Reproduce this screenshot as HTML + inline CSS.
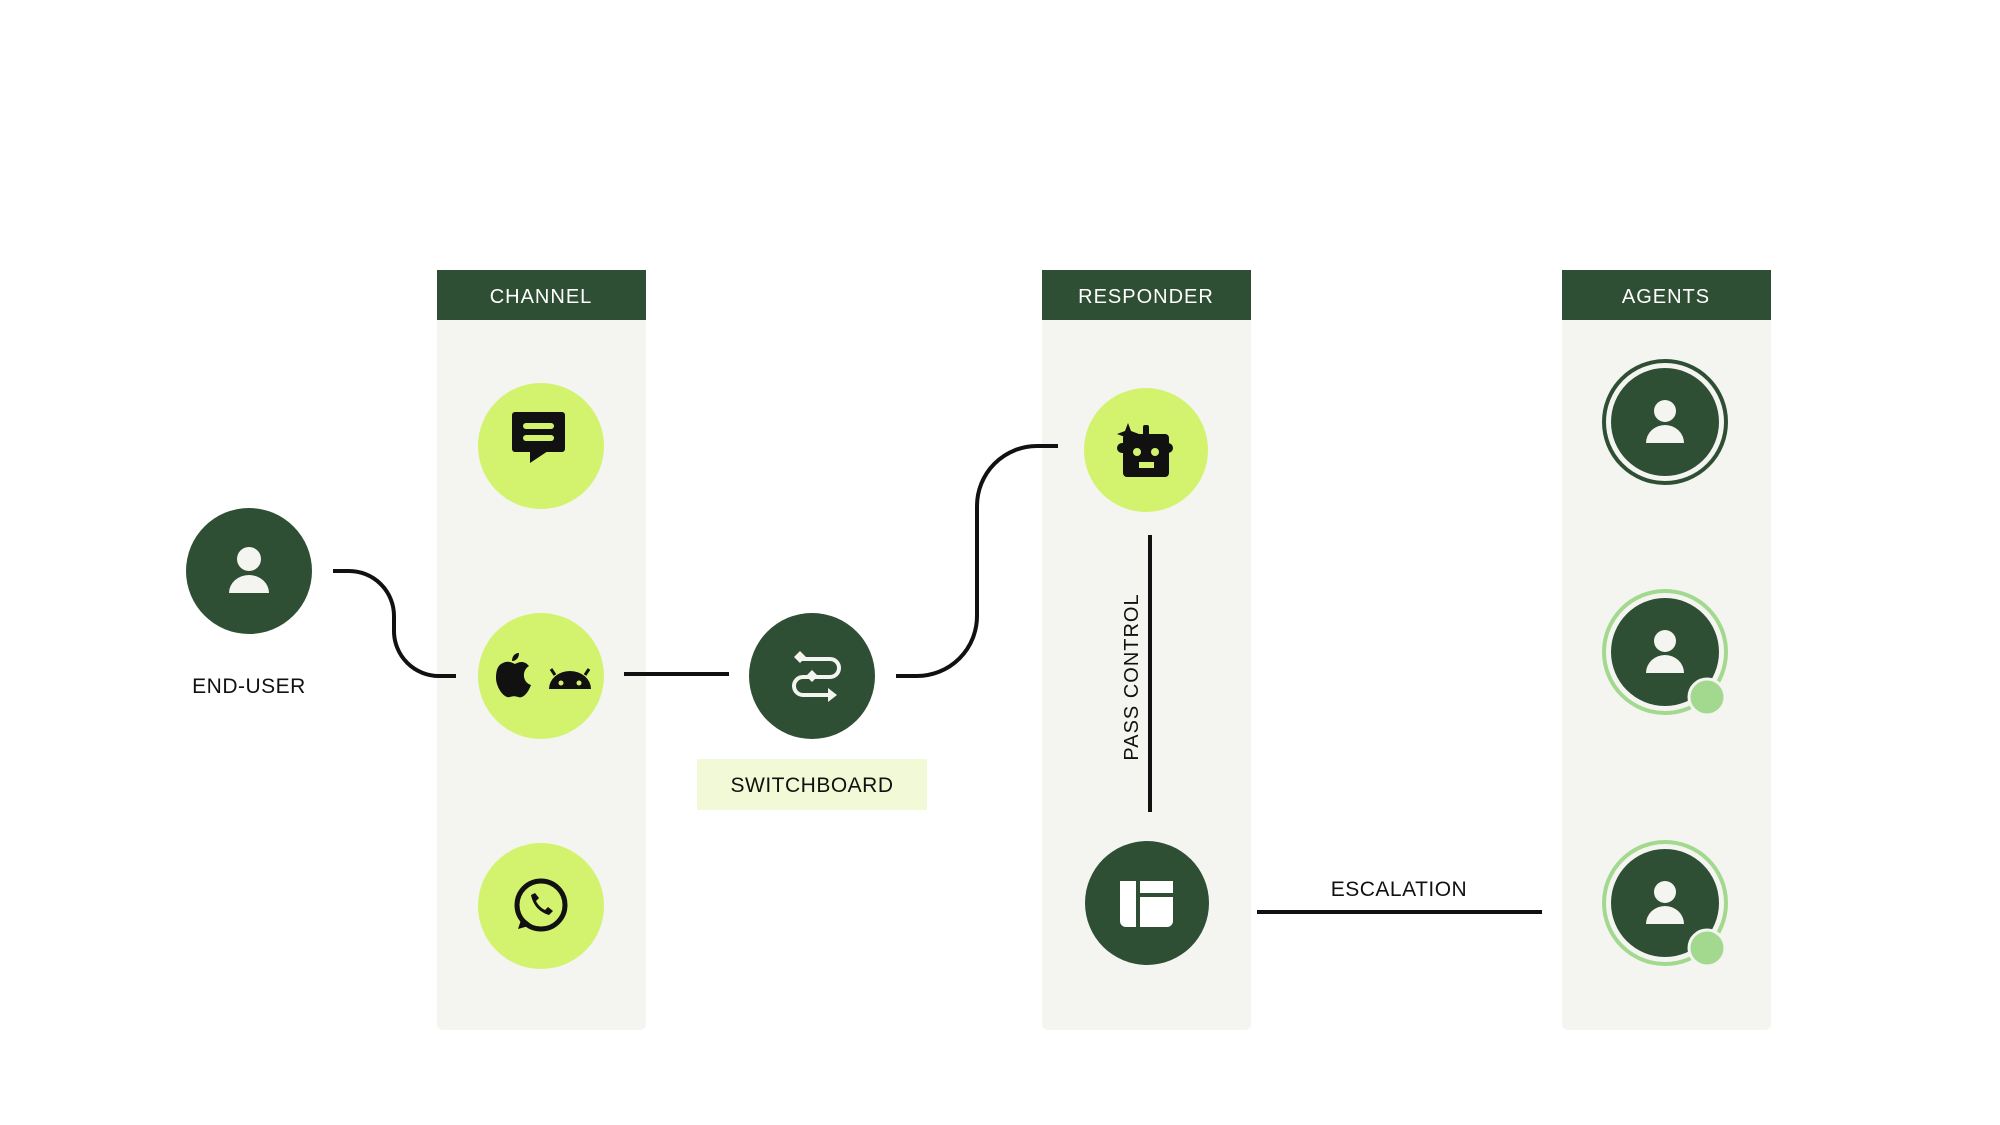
<!DOCTYPE html>
<html><head><meta charset="utf-8"><style>
html,body{margin:0;padding:0;background:#fff;}
svg{display:block;}
text{font-family:"Liberation Sans",sans-serif;}
</style></head><body>
<svg width="2000" height="1125" viewBox="0 0 2000 1125" xmlns="http://www.w3.org/2000/svg">
<rect width="2000" height="1125" fill="#fff"/>
<g>
<rect x="437" y="270" width="209" height="760" rx="6" fill="#f4f4f0"/>
<rect x="437" y="270" width="209" height="50" fill="#2f4f35"/>
<text x="541" y="303" text-anchor="middle" fill="#fff" font-size="20" letter-spacing="1">CHANNEL</text>
<rect x="1042" y="270" width="209" height="760" rx="6" fill="#f4f4f0"/>
<rect x="1042" y="270" width="209" height="50" fill="#2f4f35"/>
<text x="1146" y="303" text-anchor="middle" fill="#fff" font-size="20" letter-spacing="1">RESPONDER</text>
<rect x="1562" y="270" width="209" height="760" rx="6" fill="#f4f4f0"/>
<rect x="1562" y="270" width="209" height="50" fill="#2f4f35"/>
<text x="1666" y="303" text-anchor="middle" fill="#fff" font-size="20" letter-spacing="1">AGENTS</text>
</g>
<g fill="none" stroke="#111" stroke-width="4">
<path d="M333 571 H349 a45 45 0 0 1 45 45 V631 a45 45 0 0 0 45 45 H456"/>
<path d="M624 674 H729"/>
<path d="M896 676 H917 a60 60 0 0 0 60 -60 V506 a60 60 0 0 1 60 -60 H1058"/>
<path d="M1150 535 V812"/>
<path d="M1257 912 H1542"/>
</g>
<text x="1399" y="896" text-anchor="middle" font-size="21" fill="#111" letter-spacing="0.5">ESCALATION</text>
<text transform="translate(1138 677) rotate(-90)" text-anchor="middle" font-size="20" fill="#111" letter-spacing="1">PASS CONTROL</text>
<circle cx="249" cy="571" r="63" fill="#2f4f35"/>
<circle cx="249" cy="559" r="12" fill="#f4f4f0"/>
<path d="M229 593 a20 18 0 0 1 40 0 z" fill="#f4f4f0"/>
<text x="249" y="693" text-anchor="middle" font-size="21" fill="#111" letter-spacing="0.5">END-USER</text>
<circle cx="541" cy="446" r="63" fill="#d3f36f"/>
<rect x="512" y="412" width="53" height="40" rx="3" fill="#111"/>
<path d="M530 451 V463 L548 451 z" fill="#111"/>
<rect x="523" y="423" width="31" height="6" rx="3" fill="#d3f36f"/>
<rect x="523" y="435" width="31" height="6" rx="3" fill="#d3f36f"/>
<circle cx="541" cy="676" r="63" fill="#d3f36f"/>
<path d="M501 664 c6 -4 10 -2 14 0 c4 -2 9 -4 14 2 c-8 5 -6 17 2 19 c-3 8 -8 14 -13 12 c-3 -1 -5 -1 -8 0 c-6 2 -14 -10 -14 -19 c0 -8 2 -12 5 -14 z" fill="#111"/>
<path d="M512 661 c0 -5 3 -8 7 -8 c0 5 -3 8 -7 8 z" fill="#111"/>
<path d="M549 689 a21 18 0 0 1 42 0 z" fill="#111"/>
<path d="M555 675 l-4 -6 M585 675 l4 -6" stroke="#111" stroke-width="3"/>
<circle cx="561" cy="683" r="2.5" fill="#d3f36f"/><circle cx="579" cy="683" r="2.5" fill="#d3f36f"/>
<circle cx="541" cy="906" r="63" fill="#d3f36f"/>
<circle cx="541" cy="905" r="24" fill="none" stroke="#111" stroke-width="5"/>
<path d="M518 929 l4 -12 l10 8 z" fill="#111"/>
<path d="M531 895 c2 10 8 17 18 20 l4 -4 l-5 -4 l-3 3 c-4 -2 -7 -5 -9 -9 l3 -3 l-4 -5 z" fill="#111"/>
<circle cx="812" cy="676" r="63" fill="#2f4f35"/>
<g fill="none" stroke="#f4f4f0" stroke-width="4">
<path d="M798 659 H830 a9 9 0 0 1 0 18 H803 a9 9 0 0 0 0 18 H828"/>
</g>
<path d="M794 657 l6 -6 l6 6 l-6 6 z M806 676 l6 -6 l6 6 l-6 6 z" fill="#f4f4f0"/>
<path d="M828 688 l9 7 l-9 7 z" fill="#f4f4f0"/>
<rect x="697" y="759" width="230" height="51" fill="#f1f9d6"/>
<text x="812" y="792" text-anchor="middle" font-size="21" fill="#111" letter-spacing="0.5">SWITCHBOARD</text>
<circle cx="1146" cy="450" r="62" fill="#d3f36f"/>
<rect x="1123" y="434" width="46" height="43" rx="4" fill="#111"/>
<rect x="1117" y="443" width="56" height="10" rx="5" fill="#111"/>
<rect x="1143" y="425" width="6" height="12" rx="2" fill="#111"/>
<path d="M1128 423 l3 8 l8 3 l-8 3 l-3 8 l-3 -8 l-8 -3 l8 -3 z" fill="#111"/>
<circle cx="1137" cy="452" r="4" fill="#d3f36f"/><circle cx="1155" cy="452" r="4" fill="#d3f36f"/>
<rect x="1139" y="462" width="15" height="6" fill="#d3f36f"/>
<circle cx="1147" cy="903" r="62" fill="#2f4f35"/>
<path d="M1120 881 H1136 V927 H1126 a6 6 0 0 1 -6 -6 z" fill="#fff"/>
<rect x="1140" y="881" width="33" height="12" fill="#fff"/>
<path d="M1140 897 H1173 V921 a6 6 0 0 1 -6 6 H1140 z" fill="#fff"/>
<g>
<circle cx="1665" cy="422" r="61" fill="none" stroke="#2f4f35" stroke-width="4"/>
<circle cx="1665" cy="422" r="54" fill="#2f4f35"/>
<circle cx="1665" cy="411" r="11" fill="#f4f4f0"/>
<path d="M1646 443 a19 18 0 0 1 38 0 z" fill="#f4f4f0"/>
</g>
<g>
<circle cx="1665" cy="652" r="61" fill="none" stroke="#a3d98f" stroke-width="4"/>
<circle cx="1665" cy="652" r="54" fill="#2f4f35"/>
<circle cx="1665" cy="641" r="11" fill="#f4f4f0"/>
<path d="M1646 673 a19 18 0 0 1 38 0 z" fill="#f4f4f0"/>
<circle cx="1707" cy="697" r="18" fill="#a3d98f" stroke="#f4f4f0" stroke-width="3"/>
</g>
<g>
<circle cx="1665" cy="903" r="61" fill="none" stroke="#a3d98f" stroke-width="4"/>
<circle cx="1665" cy="903" r="54" fill="#2f4f35"/>
<circle cx="1665" cy="892" r="11" fill="#f4f4f0"/>
<path d="M1646 924 a19 18 0 0 1 38 0 z" fill="#f4f4f0"/>
<circle cx="1707" cy="948" r="18" fill="#a3d98f" stroke="#f4f4f0" stroke-width="3"/>
</g>
</svg>
</body></html>
